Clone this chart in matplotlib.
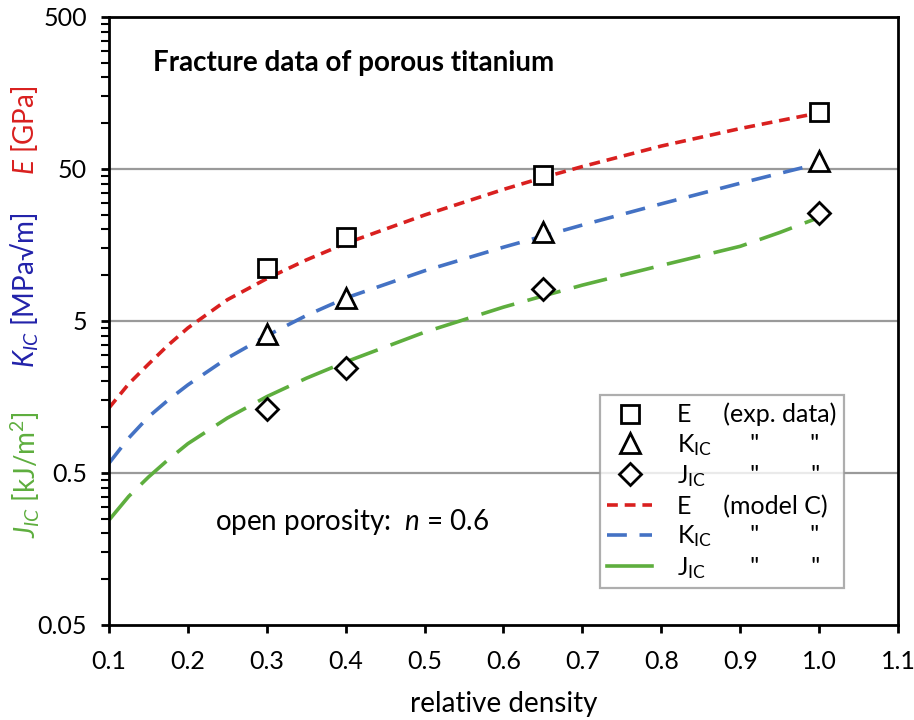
import numpy as np
import matplotlib
matplotlib.use("Agg")
import matplotlib.pyplot as plt
from matplotlib.ticker import FixedLocator, NullFormatter, FixedFormatter
from matplotlib.lines import Line2D

plt.rcParams['font.family'] = ['Lato', 'DejaVu Sans']
plt.rcParams['mathtext.fontset'] = 'custom'
plt.rcParams['mathtext.rm'] = 'Lato'
plt.rcParams['mathtext.it'] = 'Lato:italic'
plt.rcParams['mathtext.bf'] = 'Lato:bold'

# experimental data
rho_exp = [0.3, 0.4, 0.65, 1.0]
E_exp = [11.2, 17.9, 45.7, 118]
K_exp = [4.1, 7.1, 19.3, 56.5]
J_exp = [1.32, 2.45, 8.1, 25.7]

# model C curves
rho_mod = [0.1, 0.125, 0.15, 0.175, 0.2, 0.25, 0.3, 0.35, 0.4, 0.5, 0.6, 0.65, 0.7, 0.8, 0.9, 0.95, 1.0]
E_mod = [1.34, 1.93, 2.60, 3.47, 4.50, 6.9, 9.5, 12.6, 16.2, 24.9, 36.7, 43.9, 51.9, 70.8, 92.3, 104, 117]
K_mod = [0.58, 0.85, 1.17, 1.51, 1.90, 2.85, 4.0, 5.43, 7.08, 10.7, 15.3, 18.1, 21.4, 29.5, 40.3, 46.8, 54.3]
J_mod = [0.245, 0.351, 0.47, 0.612, 0.78, 1.15, 1.59, 2.10, 2.69, 4.22, 6.17, 7.3, 8.61, 11.6, 15.5, 19.1, 24.0]

yticks = [0.05, 0.5, 5, 50, 500]
yticklabels = ['0.05', '0.5', '5', '50', '500']
xticks = [0.1, 0.2, 0.3, 0.4, 0.5, 0.6, 0.7, 0.8, 0.9, 1.0, 1.1]

red = '#d9201f'
blue = '#4472c4'
green = '#5eae3e'

fig = plt.figure(figsize=(9.14, 7.2), dpi=100)
ax = fig.add_axes([109/914, 1-625/720, 789/914, 608/720])
ax.set_yscale('log')
ax.set_xlim(0.1, 1.1)
ax.set_ylim(0.05, 500)

for yv in [0.5, 5, 50]:
    ax.axhline(yv, color='#9a9a9a', lw=1.6, zorder=1)

lw = 2.6
lE, = ax.plot(rho_mod, E_mod, color=red, lw=lw, dashes=(3.0, 1.9), zorder=2)
lK, = ax.plot(rho_mod, K_mod, color=blue, lw=lw, dashes=(5.5, 3.5), zorder=2)
lJ, = ax.plot(rho_mod, J_mod, color=green, lw=lw, dashes=(9.5, 3.8), zorder=2)

mkw = dict(ls='none', mfc='white', mec='black', mew=2.0, zorder=3)
mE, = ax.plot(rho_exp, E_exp, marker='s', ms=13, **mkw)
mK, = ax.plot(rho_exp, K_exp, marker='^', ms=14, **mkw)
mJ, = ax.plot(rho_exp, J_exp, marker='D', ms=11.5, **mkw)

ax.yaxis.set_major_locator(FixedLocator(yticks))
ax.yaxis.set_major_formatter(FixedFormatter(yticklabels))
minors = []
for dec in [0.05, 0.5, 5, 50]:
    for k in range(2, 10):
        minors.append(dec * k)
ax.yaxis.set_minor_locator(FixedLocator(minors))
ax.yaxis.set_minor_formatter(NullFormatter())
ax.set_xticks(xticks)
ax.set_xticklabels([f'{v:.1f}' for v in xticks])

for s in ax.spines.values():
    s.set_linewidth(2.0)
ax.tick_params(axis='both', which='major', direction='out', length=6, width=2.0,
               labelsize=18, colors='black')
ax.tick_params(axis='y', which='major', pad=10)
ax.tick_params(axis='x', which='major', pad=12)
ax.tick_params(axis='y', which='minor', direction='out', length=6, width=1.5)

ax.set_xlabel('relative density', fontsize=20, labelpad=13)

ax.text(0.056, 0.924, 'Fracture data of porous titanium', transform=ax.transAxes,
        fontsize=20, fontweight='bold', ha='left', va='center')
ax.text(0.134, 0.169, 'open porosity:  $\\mathit{n}$ = 0.6', transform=ax.transAxes,
        fontsize=20, ha='left', va='center')

# y label in three coloured parts
fig.text(25/914, 1-475/720, '$\\mathit{J}_{\\mathit{IC}}$ [kJ/m$^2$]', color=green,
         rotation=90, fontsize=20, ha='center', va='center')
fig.text(25/914, 1-290/720, '$\\mathit{K}_{\\mathit{IC}}$ [MPa√m]', color='#2222aa',
         rotation=90, fontsize=20, ha='center', va='center')
fig.text(25/914, 1-130/720, '$\\mathit{E}$ [GPa]', color=red,
         rotation=90, fontsize=20, ha='center', va='center')

sub = '$_{\\mathrm{IC}}$'
labels = ['E     (exp. data)',
          'K' + sub + '      "        "',
          'J' + sub + '       "        "',
          'E     (model C)',
          'K' + sub + '      "        "',
          'J' + sub + '       "        "']
hJ = Line2D([], [], color=green, lw=lw)
leg = ax.legend([mE, mK, mJ, lE, lK, hJ], labels, loc='upper left',
                bbox_to_anchor=(0.622, 0.378), fontsize=18, frameon=True,
                fancybox=False, edgecolor='#9a9a9a', handlelength=1.8,
                labelspacing=0.22, borderpad=0.3, handletextpad=1.0,
                borderaxespad=0.0)
leg.get_frame().set_linewidth(1.6)
leg.set_zorder(5)

fig.savefig('out.png', dpi=100)
